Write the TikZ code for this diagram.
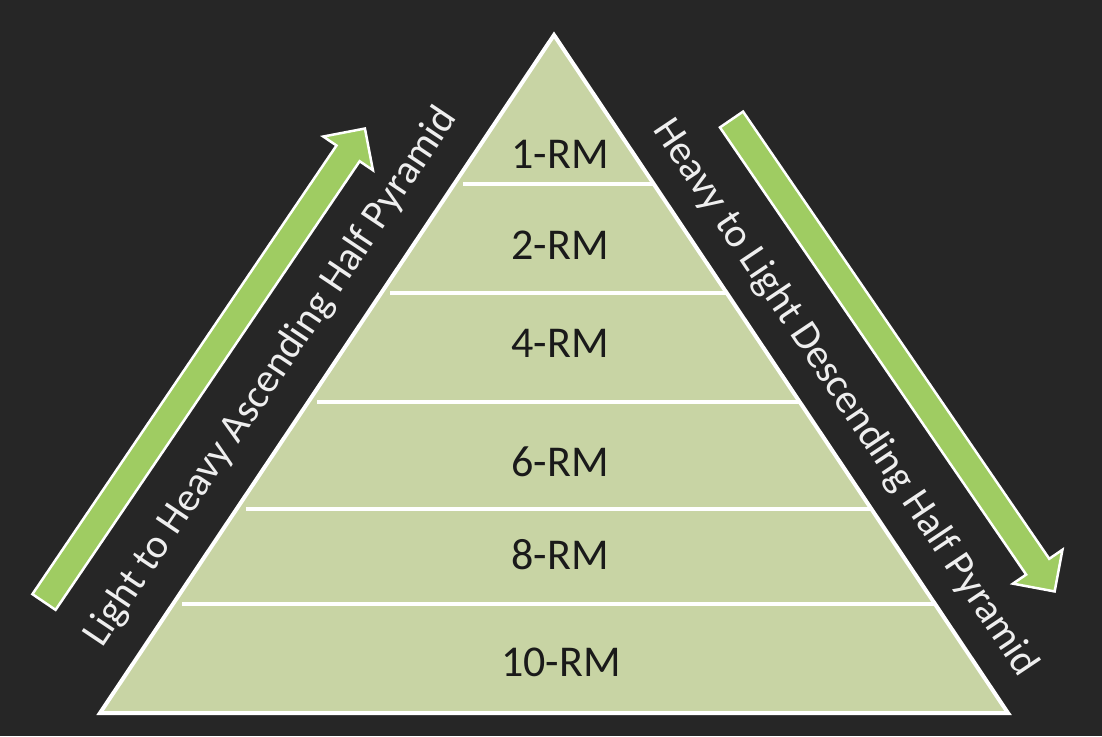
\documentclass[tikz,border=0pt]{standalone}
\usepackage{fontspec}
\setmainfont{Carlito}
\definecolor{bg}{HTML}{262626}
\definecolor{pyr}{HTML}{C8D4A4}
\definecolor{arr}{HTML}{9FCC62}
\definecolor{sidetxt}{HTML}{EEEEEE}
\definecolor{lvl}{HTML}{1A1A1A}
\begin{document}
\begin{tikzpicture}[x=1pt,y=-1pt,
  lvltext/.style={font=\fontsize{44}{50}\selectfont, text=lvl, inner sep=0pt},
  sidetext/.style={font=\fontsize{41}{48}\selectfont, text=sidetxt, inner sep=0pt},
  divider/.style={draw=white, line width=4.5pt},
  bigarrow/.style={fill=arr, draw=white, line width=2.5pt, line join=miter}]
\fill[bg] (0,0) rectangle (1102,736);
\useasboundingbox (0,0) rectangle (1102,736);
\coordinate (apex) at (554,35);
\coordinate (bl) at (100,713);
\coordinate (br) at (1008,713);
\filldraw[fill=pyr, draw=white, line width=4pt, line join=miter] (apex) -- (bl) -- (br) -- cycle;
\foreach \y/\n in {184/1,293/2,402/3,509/4,604/5}{
  \coordinate (dl\n) at ({554-0.6696*(\y-35)+9},\y);
  \coordinate (dr\n) at ({554+0.6696*(\y-35)},\y);
  \draw[divider] (dl\n) -- (dr\n);
}
\node[lvltext] (rm1) at (560,154) {1-RM};
\node[lvltext] (rm2) at (560,245) {2-RM};
\node[lvltext] (rm4) at (560,343) {4-RM};
\node[lvltext] (rm6) at (560,462) {6-RM};
\node[lvltext] (rm8) at (560,555) {8-RM};
\node[lvltext] (rm10) at (561,662) {10-RM};
\node[sidetext, rotate=56.2] (asc) at (271,377) {Light to Heavy Ascending Half Pyramid};
\node[sidetext, rotate=-56.2] (desc) at (845,398) {Heavy to Light Descending Half Pyramid};
\begin{scope}[shift={(44,602)}, rotate=55.87]
\draw[bigarrow] (0,-14) -- (542,-14) -- (542,-30) -- (572,0) -- (542,30) -- (542,14) -- (0,14) -- cycle;
\end{scope}
\begin{scope}[shift={(731.5,119.5)}, rotate=-55.6]
\draw[bigarrow] (0,-14) -- (542,-14) -- (542,-30) -- (572,0) -- (542,30) -- (542,14) -- (0,14) -- cycle;
\end{scope}
\end{tikzpicture}
\end{document}
